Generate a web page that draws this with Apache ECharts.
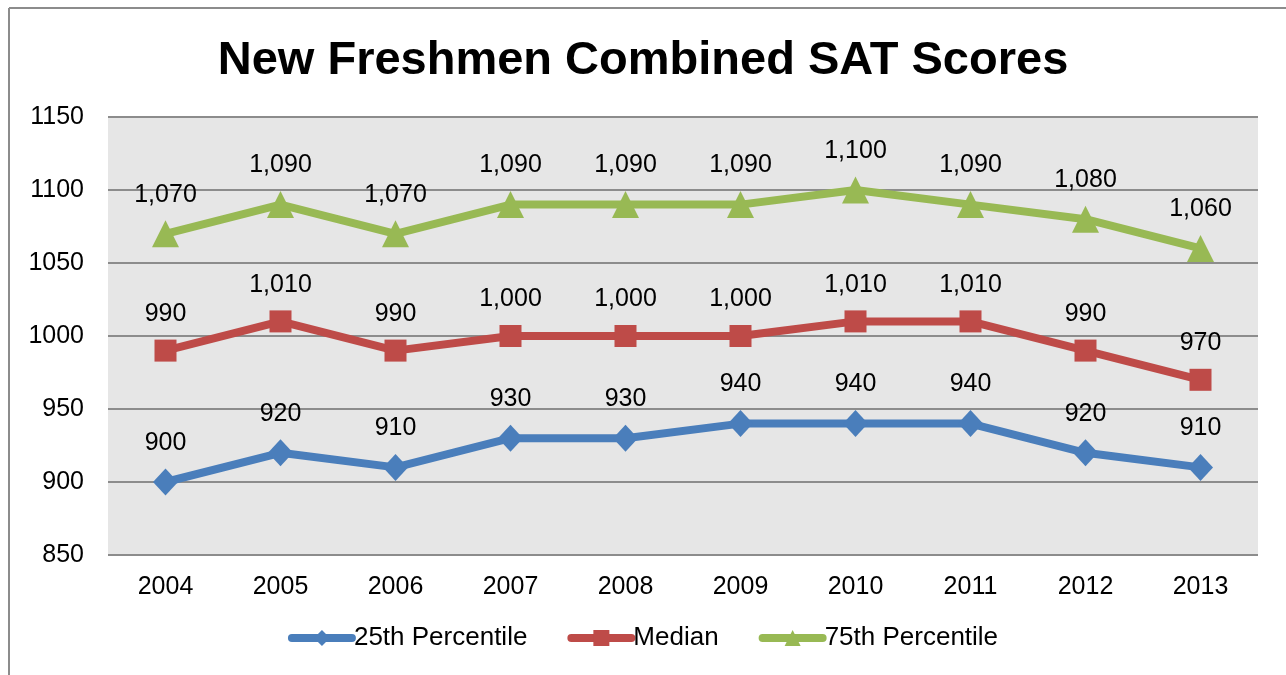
<!DOCTYPE html>
<html>
<head>
<meta charset="utf-8">
<script src="https://cdn.jsdelivr.net/npm/echarts@6/dist/echarts.min.js"></script>
<style>
  html, body { margin: 0; padding: 0; background: #fff; }
  #chart { width: 1286px; height: 675px; }
</style>
</head>
<body>
<div id="chart"></div>
<script>
// 数据
const years = ['2004', '2005', '2006', '2007', '2008', '2009', '2010', '2011', '2012', '2013'];
const p25 = [900, 920, 910, 930, 930, 940, 940, 940, 920, 910];
const median = [990, 1010, 990, 1000, 1000, 1000, 1010, 1010, 990, 970];
const p75 = [1070, 1090, 1070, 1090, 1090, 1090, 1100, 1090, 1080, 1060];
const seriesNames = ['25th Percentile', 'Median', '75th Percentile'];

const myChart = echarts.init(document.getElementById('chart'));

const font = 'Liberation Sans, Arial, sans-serif';

const makeSeries = (name, data, color, symbol, size) => ({
  name: name,
  type: 'line',
  data: data,
  color: color,
  symbol: symbol,
  symbolSize: size,
  lineStyle: { width: 8, color: color },
  itemStyle: { color: color },
  label: {
    show: true,
    position: 'top',
    distance: 13,
    fontFamily: font,
    fontSize: 25,
    color: '#000',
    formatter: (p) => p.value.toLocaleString('en-US')
  },
  emphasis: { disabled: true },
  z: 3
});

myChart.setOption({
  animation: false,
  backgroundColor: '#fff',
  title: {
    text: 'New Freshmen Combined SAT Scores',
    left: 'center',
    top: 33,
    textStyle: { fontFamily: font, fontSize: 47, fontWeight: 'bold', color: '#000' }
  },
  // 边框（只露出上边和左边）
  graphic: [
    { type: 'line', shape: { x1: 9, y1: 8, x2: 1286, y2: 8 }, style: { stroke: '#8c8c8c', lineWidth: 2 }, silent: true },
    { type: 'line', shape: { x1: 9, y1: 8, x2: 9, y2: 675 }, style: { stroke: '#8c8c8c', lineWidth: 2 }, silent: true }
  ],
  grid: {
    left: 108,
    right: 28,
    top: 117,
    bottom: 120,
    show: true,
    backgroundColor: '#e6e6e6',
    borderWidth: 0
  },
  legend: {
    data: seriesNames,
    bottom: 19,
    left: 'center',
    itemWidth: 60,
    itemHeight: 20,
    itemGap: 40,
    lineStyle: { width: 8, cap: 'round' },
    textStyle: { fontFamily: font, fontSize: 26, color: '#000', padding: [0, 0, 0, -3] }
  },
  xAxis: {
    type: 'category',
    data: years,
    boundaryGap: true,
    axisLine: { show: false },
    axisTick: { show: false },
    axisLabel: { fontFamily: font, fontSize: 25, color: '#000', margin: 20 }
  },
  yAxis: {
    type: 'value',
    min: 850,
    max: 1150,
    interval: 50,
    axisLine: { show: false },
    axisTick: { show: false },
    axisLabel: { fontFamily: font, fontSize: 25, color: '#000', margin: 24, formatter: (v) => String(v) },
    splitLine: { show: true, lineStyle: { color: '#8c8c8c', width: 2 } }
  },
  series: [
    makeSeries(seriesNames[0], p25, '#4a7ebb', 'diamond', [25, 27]),
    makeSeries(seriesNames[1], median, '#be4b48', 'rect', 22),
    makeSeries(seriesNames[2], p75, '#98b954', 'triangle', 27)
  ]
});
</script>
</body>
</html>
